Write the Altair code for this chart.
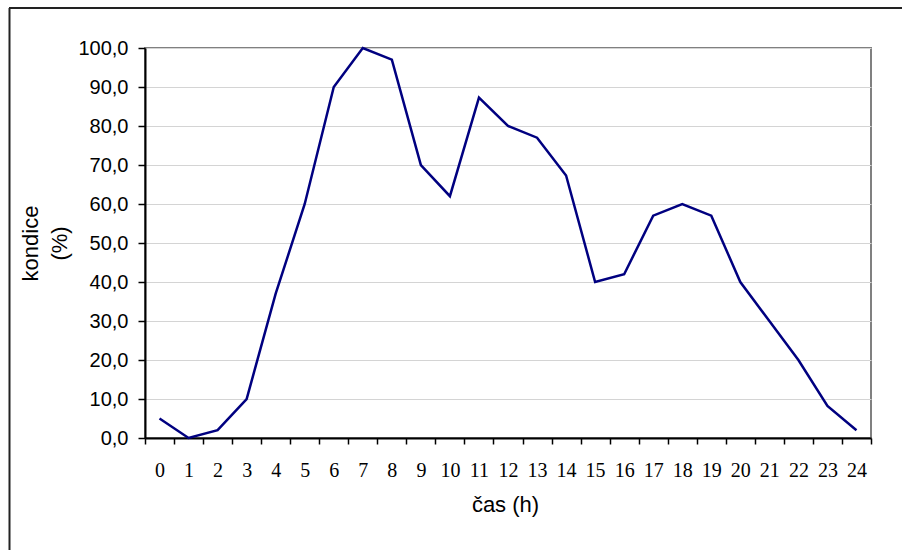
import altair as alt
import pandas as pd

hours = list(range(25))
kondice = [5, 0, 2, 10, 37, 60, 90, 100, 97, 70, 62, 87.3, 80, 77, 67.3, 40, 42, 57, 60, 57, 40, 30, 20, 8.2, 2]
y_ticks = [0, 10, 20, 30, 40, 50, 60, 70, 80, 90, 100]
x_tick_marks = [h - 0.5 for h in range(26)]

df = pd.DataFrame({"cas": hours, "kondice": kondice})

W, H = 726, 390
PL, PT = 145, 48

xscale = alt.Scale(domain=[-0.5, 24.5], nice=False, zero=False)
yscale = alt.Scale(domain=[0, 100], nice=False)

yaxis = alt.Axis(
    orient="left",
    values=y_ticks,
    labelExpr="replace(format(datum.value, '.1f'), '.', ',')",
    labelFont="Liberation Sans", labelFontSize=20, labelColor="black",
    labelPadding=10, tickSize=7, tickColor="black", tickWidth=1.5,
    domainColor="black", domainWidth=2,
    grid=True, gridColor="#d4d4d4", gridWidth=1.2,
    title=["kondice", "(%)"], titleFont="Liberation Sans", titleFontSize=22,
    titleFontWeight="normal", titleColor="black", titleLineHeight=29,
    titleX=-108, titleY=195, titleAlign="center", titleBaseline="alphabetic", titleAngle=270,
)

tick_axis = alt.Axis(
    orient="bottom",
    values=x_tick_marks, labels=False, ticks=True, tickSize=6, tickColor="black", tickWidth=1.5,
    domainColor="black", domainWidth=2, grid=False, title=None,
)

label_axis = alt.Axis(
    orient="bottom",
    values=hours, format="d", ticks=False, tickSize=0, domain=False, grid=False,
    labelFont="Liberation Serif", labelFontSize=20, labelColor="black", labelPadding=22,
    title="čas (h)", titleFont="Liberation Sans", titleFontSize=22, titleFontWeight="normal",
    titleColor="black", titleX=360, titleY=73, titleBaseline="alphabetic",
)

labels_layer = alt.Chart(df).mark_point(opacity=0).encode(
    x=alt.X("cas:Q", scale=xscale, axis=label_axis),
    y=alt.Y("kondice:Q", scale=yscale, axis=yaxis),
)

line = alt.Chart(df).mark_line(color="#000080", strokeWidth=2.5).encode(
    x=alt.X("cas:Q", scale=xscale, axis=tick_axis),
    y=alt.Y("kondice:Q", scale=yscale, axis=yaxis),
)

one = alt.Data(values=[{"a": 1}])
border_top = alt.Chart(one).mark_rule(color="#222222", strokeWidth=2).encode(
    x=alt.value(9 - PL), x2=alt.value(902 - PL + 5), y=alt.value(8 - PT)
)
border_left = alt.Chart(one).mark_rule(color="#222222", strokeWidth=2).encode(
    x=alt.value(9.5 - PL), y=alt.value(8 - PT), y2=alt.value(550 - PT + 5)
)

chart = alt.layer(labels_layer, line, border_top, border_left).resolve_axis(
    x="independent"
).properties(
    width=W, height=H,
    autosize=alt.AutoSizeParams(type="none"),
    padding={"left": PL, "top": PT, "right": 902 - PL - W, "bottom": 550 - PT - H},
    background="white",
).configure_view(stroke="#808080", strokeWidth=2)

chart.save("out.html", embed_options={"renderer": "svg", "actions": False})
